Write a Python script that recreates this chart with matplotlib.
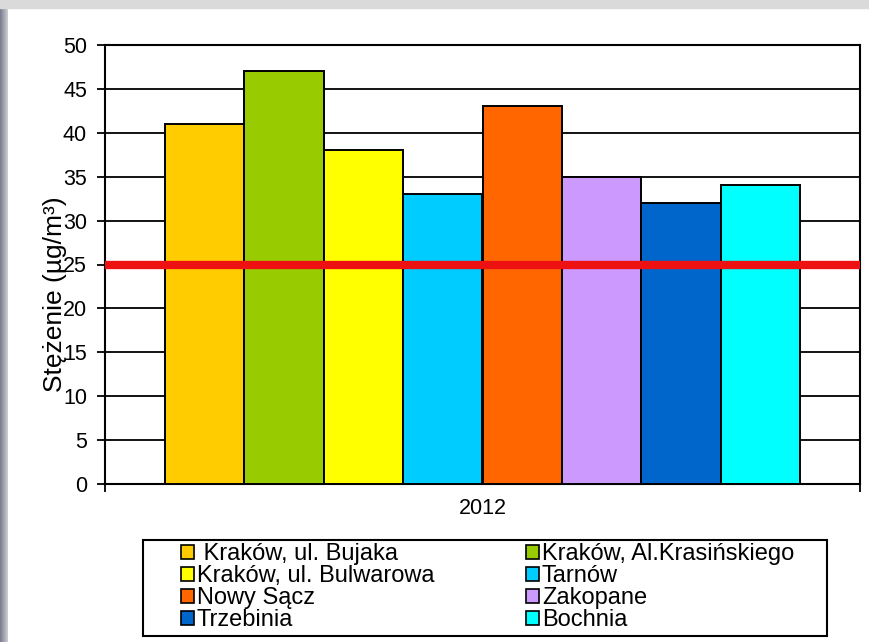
import numpy as np
import matplotlib.pyplot as plt
from matplotlib.patches import Patch, Rectangle

# Dane: stężenia w 2012 roku
stations = [" Kraków, ul. Bujaka", "Kraków, Al.Krasińskiego", "Kraków, ul. Bulwarowa",
            "Tarnów", "Nowy Sącz", "Zakopane", "Trzebinia", "Bochnia"]
values = [41, 47, 38, 33, 43, 35, 32, 34]
colors = ["#ffcc00", "#99cc00", "#ffff00", "#00ccff",
          "#ff6600", "#cc99ff", "#0066cc", "#00ffff"]
year_label = "2012"
limit = 25
y_ticks = [0, 5, 10, 15, 20, 25, 30, 35, 40, 45, 50]

W, H = 869, 642
plt.rcParams["font.family"] = ["Liberation Sans", "DejaVu Sans"]

fig = plt.figure(figsize=(W / 100, H / 100), dpi=100, facecolor="white")

# Tło: szary pasek u góry i gradient po lewej
fig.patches.append(Rectangle((0, 1 - 8 / H), 1, 8 / H, transform=fig.transFigure,
                             color="#dadada", zorder=0))
bg = fig.add_axes([0, 0, 8 / W, 1 - 8 / H])
grad = np.linspace(0, 1, 32)
base = np.array([118, 124, 140]) / 255
light = np.array([205, 207, 212]) / 255
img = base[None, None, :] * (1 - grad[None, :, None]) + light[None, None, :] * grad[None, :, None]
bg.imshow(img, aspect="auto", extent=[0, 1, 0, 1])
bg.set_axis_off()

ax = fig.add_axes([105 / W, 1 - 484 / H, (860 - 105) / W, (484 - 45) / H])
x = np.arange(len(values))
ax.bar(x, values, width=1.0, color=colors, edgecolor="black", linewidth=1.4, zorder=3)
ax.axhline(limit, color="#ee1111", linewidth=6, zorder=4)

ax.set_xlim(-1.25, len(values) + 0.25)
ax.set_ylim(0, 50)
ax.set_yticks(y_ticks)
ax.tick_params(axis="y", direction="out", length=6, width=1.3, labelsize=15.5, pad=7)
ax.yaxis.grid(True, color="black", linewidth=1.3, zorder=0)

ax.set_xticks([(len(values) - 1) / 2])
ax.set_xticklabels([year_label], fontsize=15.5)
ax.tick_params(axis="x", which="major", length=0, pad=10)
ax.set_xticks([-1.25, len(values) + 0.25], minor=True)
ax.tick_params(axis="x", which="minor", direction="out", length=6, width=1.3)

for s in ax.spines.values():
    s.set_linewidth(1.5)

# w oryginale opis osi nachodzi na liczby
fig.text(55 / W, 1 - 294 / H, "Stężenie (µg/m³)", rotation=90, fontsize=19,
         ha="center", va="center")

# Legenda w ramce pod wykresem
fig.patches.append(Rectangle((143 / W, 1 - 636 / H), (827 - 143) / W, 96 / H,
                             transform=fig.transFigure, fill=False,
                             edgecolor="black", linewidth=1.5, zorder=5))
handles = [Patch(facecolor=c, edgecolor="black", linewidth=1.2) for c in colors]
col1 = [0, 2, 4, 6]
col2 = [1, 3, 5, 7]
for idx, xpos in [(col1, 181), (col2, 526)]:
    fig.legend([handles[i] for i in idx], [stations[i] for i in idx],
               loc="center left", bbox_to_anchor=(xpos / W, 1 - 587 / H),
               frameon=False, fontsize=17, borderpad=0, borderaxespad=0,
               handlelength=0.55, handleheight=0.55, handletextpad=0.12,
               labelspacing=0.0)

fig.savefig("out.png", dpi=100, facecolor=fig.get_facecolor())
